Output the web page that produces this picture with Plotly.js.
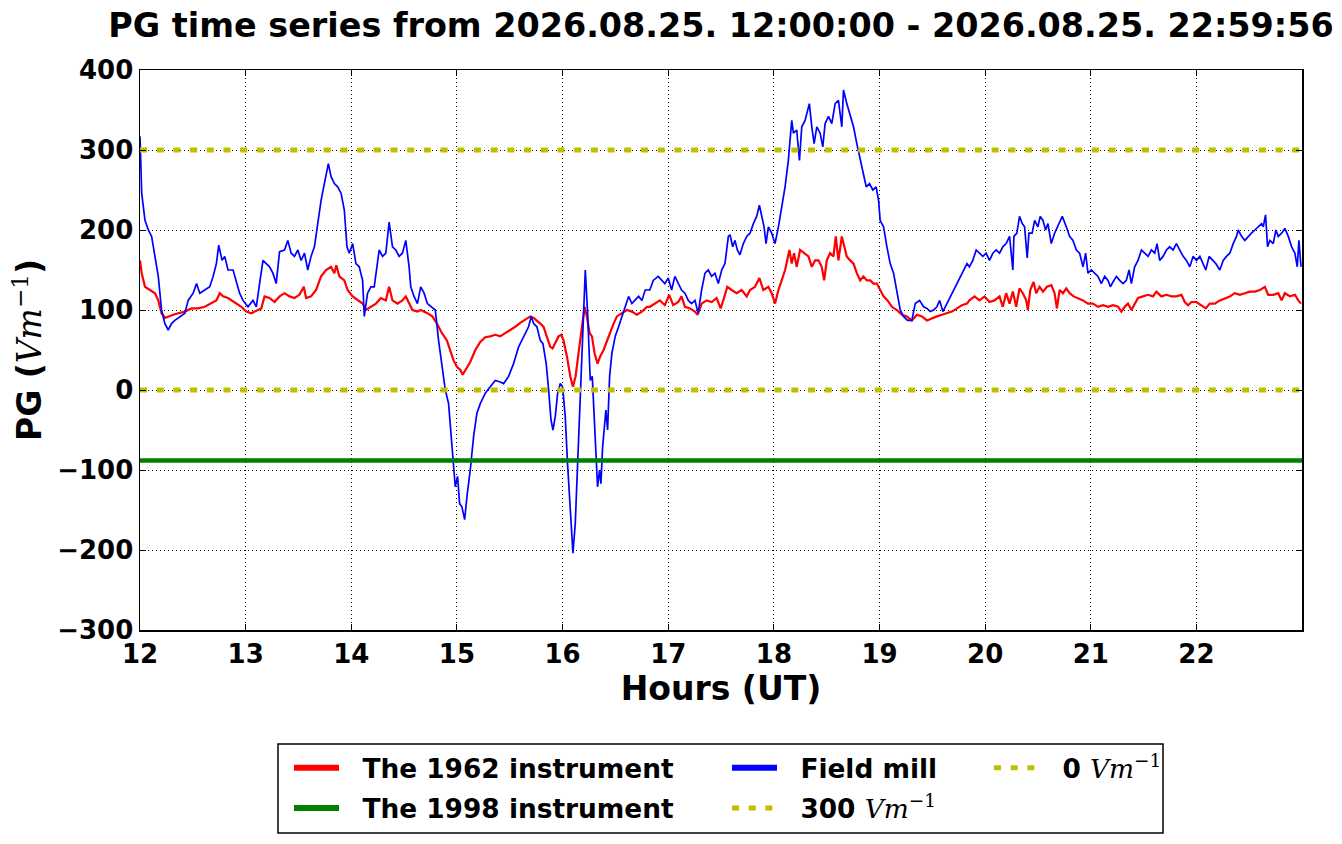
<!DOCTYPE html>
<html>
<head>
<meta charset="utf-8">
<script src="https://cdn.plot.ly/plotly-3.0.1.min.js"></script>
<style>html,body{margin:0;padding:0;background:#fff;}#chart{width:1342px;height:844px;}</style>
</head>
<body>
<div id="chart"></div>
<script>
// ---- Data (hours UT, PG in V/m) ----
const redHours = [12.000,12.016,12.047,12.094,12.142,12.173,12.204,12.236,12.267,12.314,12.362,12.425,12.487,12.550,12.613,12.676,12.723,12.755,12.786,12.833,12.896,12.959,13.006,13.053,13.116,13.148,13.179,13.226,13.274,13.321,13.368,13.415,13.462,13.509,13.550,13.572,13.619,13.667,13.714,13.761,13.808,13.840,13.858,13.887,13.934,13.965,14.013,14.060,14.107,14.138,14.186,14.233,14.280,14.327,14.358,14.390,14.437,14.484,14.516,14.547,14.579,14.626,14.657,14.720,14.767,
14.811,14.858,14.905,14.937,14.968,15.000,15.032,15.054,15.079,15.126,15.174,15.221,15.268,15.315,15.363,15.410,15.457,15.505,15.552,15.599,15.647,15.694,15.726,15.757,15.789,15.820,15.852,15.883,15.905,15.931,15.962,15.987,16.009,16.041,16.073,16.098,16.123,16.151,16.183,16.208,16.230,16.256,16.278,16.303,16.331,16.356,16.388,16.420,16.451,16.483,16.514,16.562,16.609,16.656,16.703,16.751,16.798,
16.826,16.874,16.921,16.968,17.009,17.047,17.095,17.126,17.158,17.205,17.253,17.278,17.316,17.363,17.411,17.458,17.496,17.521,17.559,17.600,17.648,17.695,17.743,17.774,17.821,17.863,17.900,17.948,17.979,18.011,18.043,18.074,18.106,18.147,18.169,18.191,18.216,18.248,18.286,18.327,18.359,18.390,18.422,18.453,18.476,18.501,18.532,18.564,18.586,18.611,18.643,18.668,18.690,18.722,18.754,18.785,18.817,18.848,18.880,18.912,18.943,18.975,19.006,19.038,19.076,19.117,19.164,19.212,19.259,19.306,19.354,19.401,19.449,19.496,19.543,19.591,19.638,19.686,19.733,19.780,19.828,
19.851,19.899,19.946,19.994,20.041,20.088,20.136,20.167,20.199,20.231,20.262,20.294,20.325,20.357,20.389,20.404,20.427,20.458,20.483,20.515,20.547,20.585,20.626,20.657,20.679,20.705,20.736,20.768,20.799,20.837,20.878,20.926,20.973,21.021,21.068,21.115,21.163,21.210,21.258,21.289,21.321,21.352,21.384,21.415,21.447,21.494,21.542,21.589,21.621,21.668,21.716,21.763,21.810,21.858,21.889,21.921,21.953,22.000,22.047,22.088,22.126,22.174,22.221,22.269,22.316,22.363,22.411,22.458,22.506,22.553,22.601,22.648,22.679,22.727,22.774,22.806,22.837,22.885,22.932,22.964,22.989];
const redValues = [162,146,129,125,121,112,96,90,92,94,96,98,102,102,104,108,112,121,117,115,110,104,98,96,100,102,117,115,110,117,121,117,115,119,129,115,117,125,142,150,154,146,156,142,137,125,117,112,108,100,104,108,115,112,129,112,108,112,117,108,100,98,100,96,92,
83,71,62,50,37,29,25,19,25,35,50,60,66,67,69,67,71,75,79,84,88,92,90,87,83,79,67,54,52,58,67,69,62,42,17,4,17,46,83,104,92,71,67,46,33,42,50,62,71,83,92,96,100,98,94,98,104,
104,108,112,106,119,106,110,117,104,102,98,94,108,112,110,115,102,112,129,125,121,125,117,125,129,140,125,129,121,108,125,137,150,175,158,171,154,175,171,167,154,162,162,154,137,162,171,167,192,162,192,179,167,162,158,146,137,142,137,137,133,133,125,117,112,104,100,94,92,87,94,92,87,90,92,94,96,98,102,106,108,
112,117,112,117,110,112,117,104,121,108,123,104,127,121,112,100,125,135,121,129,123,129,131,121,102,125,121,127,121,117,115,112,108,108,104,106,104,106,104,98,104,108,100,108,115,117,119,117,123,117,119,117,117,119,110,106,110,110,106,102,108,108,112,115,117,121,119,121,123,123,125,129,119,119,121,112,121,117,119,112,108];

const blueHours = [12.000,12.016,12.047,12.079,12.110,12.126,12.142,12.173,12.204,12.236,12.267,12.299,12.330,12.377,12.425,12.456,12.503,12.535,12.566,12.613,12.660,12.692,12.723,12.745,12.777,12.802,12.833,12.881,12.912,12.943,12.975,13.022,13.069,13.101,13.132,13.164,13.195,13.226,13.258,13.289,13.321,13.368,13.399,13.431,13.462,13.494,13.525,13.557,13.588,13.619,13.651,13.682,13.714,13.745,13.783,13.808,13.840,13.871,13.903,13.934,13.959,13.981,14.013,14.044,14.075,14.107,14.123,14.154,14.186,14.217,14.264,14.296,14.327,14.358,14.390,14.421,14.453,14.484,14.516,14.547,14.563,14.594,14.626,14.657,14.689,14.720,
14.763,14.795,14.826,14.858,14.890,14.921,14.937,14.953,14.968,14.984,15.006,15.025,15.047,15.073,15.095,15.126,15.158,15.189,15.221,15.268,15.315,15.363,15.410,15.442,15.489,15.536,15.584,15.631,15.678,15.703,15.726,15.757,15.789,15.814,15.845,15.868,15.890,15.909,15.931,15.953,15.978,16.000,16.025,16.047,16.073,16.098,16.120,16.142,16.167,16.192,16.215,16.237,16.262,16.281,16.300,16.319,16.331,16.350,16.363,16.379,16.394,16.410,16.426,16.445,16.467,16.498,16.530,16.562,16.593,16.625,16.656,16.688,16.719,16.751,16.782,
16.826,16.858,16.905,16.937,16.968,17.000,17.032,17.063,17.095,17.126,17.158,17.190,17.221,17.253,17.284,17.316,17.348,17.379,17.411,17.442,17.474,17.506,17.537,17.569,17.585,17.610,17.632,17.654,17.679,17.711,17.743,17.774,17.806,17.837,17.863,17.885,17.907,17.926,17.948,17.979,18.011,18.043,18.074,18.106,18.137,18.169,18.185,18.216,18.242,18.264,18.295,18.336,18.359,18.381,18.406,18.438,18.463,18.485,18.517,18.548,18.580,18.611,18.643,18.659,18.690,18.722,18.754,18.785,18.817,18.848,18.874,18.905,18.937,18.968,18.991,19.006,19.038,19.070,19.101,19.133,19.164,19.196,19.227,19.265,19.306,19.338,19.379,19.417,19.449,19.480,19.512,19.543,19.569,19.600,19.638,19.686,19.733,19.780,19.828,
19.851,19.883,19.915,19.946,19.978,20.009,20.041,20.073,20.104,20.136,20.167,20.199,20.231,20.262,20.272,20.300,20.325,20.351,20.373,20.398,20.414,20.445,20.468,20.499,20.521,20.547,20.572,20.594,20.626,20.657,20.689,20.730,20.768,20.799,20.831,20.863,20.894,20.926,20.951,20.973,21.005,21.036,21.068,21.100,21.131,21.163,21.185,21.210,21.242,21.273,21.305,21.336,21.362,21.384,21.415,21.447,21.479,21.510,21.542,21.573,21.605,21.627,21.652,21.684,21.716,21.747,21.779,21.810,21.842,21.874,21.905,21.937,21.968,22.000,22.032,22.063,22.088,22.120,22.152,22.183,22.221,22.253,22.284,22.316,22.348,22.379,22.395,22.427,22.458,22.490,22.521,22.553,22.585,22.616,22.632,22.654,22.673,22.695,22.727,22.752,22.774,22.806,22.837,22.869,22.901,22.932,22.954,22.970,22.989];
const blueValues = [317,246,212,200,192,179,171,142,100,83,75,83,87,92,96,112,121,133,121,125,129,142,158,181,162,167,150,150,137,121,112,104,112,104,133,162,158,154,146,133,173,175,187,171,167,175,162,171,150,167,179,208,237,258,283,267,258,254,246,225,179,171,183,158,154,137,92,121,129,129,175,167,171,210,179,175,167,171,187,154,129,117,108,129,121,108,
104,100,62,33,0,-17,-46,-75,-100,-121,-108,-142,-146,-162,-133,-100,-58,-29,-17,-4,4,12,10,8,17,33,54,67,79,92,83,79,62,58,33,0,-37,-50,-33,-4,8,4,-33,-92,-154,-204,-167,-92,-4,83,150,96,12,17,-33,-92,-121,-100,-117,-71,-50,-25,-50,17,46,67,79,92,104,117,108,112,117,112,125,
125,137,142,137,133,140,125,142,133,125,121,112,108,112,96,125,146,150,142,146,133,150,158,192,194,179,187,175,169,183,192,196,208,217,231,217,204,183,204,196,183,204,229,254,287,337,321,325,287,329,337,358,329,308,329,321,304,333,342,333,358,362,329,375,358,342,329,308,287,267,254,258,250,254,237,212,204,179,158,146,121,100,92,87,87,108,112,104,102,98,100,104,112,98,108,121,133,146,158,
154,162,175,171,167,171,162,171,175,171,179,183,192,150,192,196,217,208,204,165,196,196,212,204,217,212,200,208,183,196,206,217,204,192,187,175,171,154,171,146,150,146,142,133,142,137,129,135,142,137,133,137,150,133,154,162,175,171,167,175,171,183,162,167,175,179,175,183,175,167,162,154,167,162,167,158,150,167,162,158,150,162,167,171,183,192,200,192,187,192,196,200,204,208,204,219,179,187,183,200,192,196,202,192,179,171,154,187,154];

const refHours = [12, 23];
const instr1998Values = [-88, -88];
const level300Values = [300, 300];
const level0Values = [0, 0];

const seriesNames = ['The 1962 instrument', 'The 1998 instrument', 'Field mill'];
const titleText = 'PG time series from 2026.08.25. 12:00:00 - 2026.08.25. 22:59:56';
const xTicks = [12, 13, 14, 15, 16, 17, 18, 19, 20, 21, 22];
const yTicks = [-300, -200, -100, 0, 100, 200, 300, 400];

// ---- Styling / layout ----
const unit = '<span style="font-family:\'DejaVu Serif\';font-weight:normal"><i>Vm</i><sup>−1</sup></span>';
const gap = '\u00a0\u00a0';   // extra space between legend handle and label
const W = 1342, H = 844, L = 140, R = 40, T = 70, B = 214;
const pw = W - L - R, ph = H - T - B;
const px = v => (v - L) / pw;          // pixel -> paper x
const py = v => (H - B - v) / ph;       // pixel -> paper y
const yel = '#bfbf00';
const FONT = 'DejaVu Sans';
const yDash = '7px,9.7px';

const traces = [
  {x: redHours, y: redValues, mode: 'lines', line: {color: '#ff0000', width: 2.2}, name: seriesNames[0], showlegend: false, hoverinfo: 'skip'},
  {x: blueHours, y: blueValues, mode: 'lines', line: {color: '#0000ff', width: 1.7}, name: seriesNames[2], showlegend: false, hoverinfo: 'skip'},
  {x: refHours, y: instr1998Values, mode: 'lines', line: {color: '#008000', width: 4.5}, name: seriesNames[1], showlegend: false, hoverinfo: 'skip'},
  {x: refHours, y: level300Values, mode: 'lines', line: {color: yel, width: 5, dash: yDash}, name: gap + '300 ' + unit, legend: 'legend2', legendgroup: 'g4', legendrank: 2, hoverinfo: 'skip'},
  {x: refHours, y: level0Values, mode: 'lines', line: {color: yel, width: 5, dash: yDash}, name: gap + '0 ' + unit, legend: 'legend3', legendgroup: 'g5', legendrank: 1, hoverinfo: 'skip'},
  // legend handles (thick lines) for the data lines
  {x: [null], y: [null], mode: 'lines', line: {color: '#ff0000', width: 6}, name: gap + seriesNames[0], legend: 'legend', legendgroup: 'g1', legendrank: 1, hoverinfo: 'skip'},
  {x: [null], y: [null], mode: 'lines', line: {color: '#008000', width: 6}, name: gap + seriesNames[1], legend: 'legend', legendgroup: 'g2', legendrank: 2, hoverinfo: 'skip'},
  {x: [null], y: [null], mode: 'lines', line: {color: '#0000ff', width: 6}, name: gap + seriesNames[2], legend: 'legend2', legendgroup: 'g3', legendrank: 1, hoverinfo: 'skip'}
];

const legendFont = {family: FONT, size: 26.4, color: '#000', weight: 'bold'};
const legendBase = {orientation: 'v', xanchor: 'left', yanchor: 'top', bgcolor: 'rgba(0,0,0,0)', borderwidth: 0, font: legendFont, tracegroupgap: 3, itemwidth: 45, traceorder: 'grouped', itemclick: false, itemdoubleclick: false};

const axisCommon = {
  showline: true, linecolor: '#000', linewidth: 1.5, mirror: 'allticks',
  ticks: 'inside', ticklen: 6, tickwidth: 1, tickcolor: '#000',
  showgrid: true, gridcolor: '#000', gridwidth: 1, griddash: '1px,3px',
  zeroline: false, tickfont: {family: FONT, size: 26, color: '#000', weight: 'bold'},
  fixedrange: true
};

const layout = {
  width: W, height: H,
  margin: {l: L, r: R, t: T, b: B, pad: 0},
  paper_bgcolor: '#fff', plot_bgcolor: '#fff',
  font: {family: FONT, color: '#000'},
  title: {text: titleText, font: {family: FONT, size: 33.4, color: '#000', weight: 'bold'}, x: px(721), xanchor: 'center', xref: 'paper', y: 1 - 25 / H, yanchor: 'middle', yref: 'container'},
  xaxis: Object.assign({}, axisCommon, {range: [12, 22.999], tickvals: xTicks, ticklabelstandoff: 0,
    title: {text: 'Hours (UT)', font: {family: FONT, size: 33, color: '#000', weight: 'bold'}, standoff: 8}}),
  yaxis: Object.assign({}, axisCommon, {range: [-300, 400], tickvals: yTicks, ticklabelstandoff: 0,
    title: {text: 'PG (' + unit + ')', font: {family: FONT, size: 33, color: '#000', weight: 'bold'}, standoff: 5}}),
  legend: Object.assign({}, legendBase, {x: px(289), y: py(744)}),
  legend2: Object.assign({}, legendBase, {x: px(727), y: py(744)}),
  legend3: Object.assign({}, legendBase, {x: px(989), y: py(744)}),
  shapes: [{type: 'rect', xref: 'paper', yref: 'paper', x0: px(278), x1: px(1163), y0: py(833), y1: py(744), line: {color: '#000', width: 1.5}, fillcolor: 'rgba(0,0,0,0)'}],
  showlegend: true
};

Plotly.newPlot('chart', traces, layout, {displayModeBar: false, staticPlot: true});
</script>
</body>
</html>
